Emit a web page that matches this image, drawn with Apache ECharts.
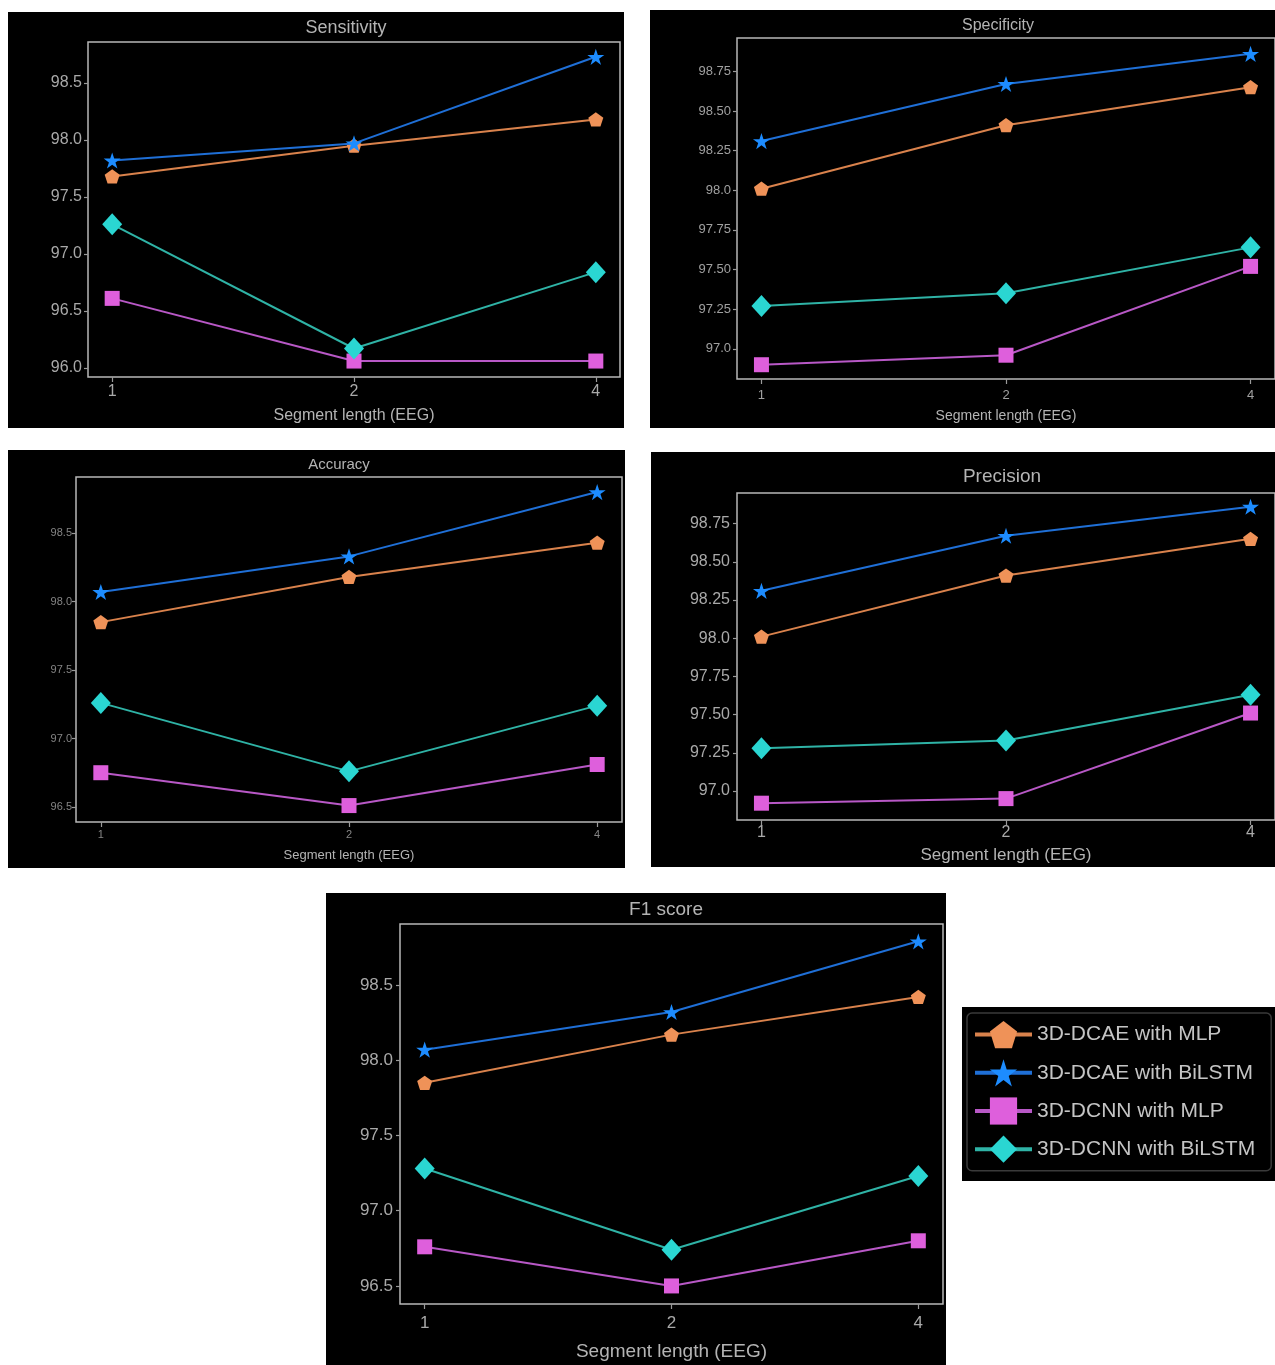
<!DOCTYPE html>
<html>
<head>
<meta charset="utf-8">
<script src="https://cdn.jsdelivr.net/npm/echarts@6/dist/echarts.min.js"></script>
<style>
  html, body { margin: 0; padding: 0; background: #fff; }
  #chart { width: 1275px; height: 1365px; }
</style>
</head>
<body>
<div id="chart"></div>
<script>
// segment lengths on the x axis
const segLabels = ["1", "2", "4"];
const modelNames = ["3D-DCAE with MLP", "3D-DCAE with BiLSTM", "3D-DCNN with MLP", "3D-DCNN with BiLSTM"];

// values, order: DCAE+MLP, DCAE+BiLSTM, DCNN+MLP, DCNN+BiLSTM
const sensitivity = [
  [97.68, 97.95, 98.18],
  [97.82, 97.97, 98.73],
  [96.61, 96.06, 96.06],
  [97.26, 96.17, 96.84]
];
const specificity = [
  [98.01, 98.41, 98.65],
  [98.31, 98.67, 98.86],
  [96.90, 96.96, 97.52],
  [97.27, 97.35, 97.64]
];
const accuracy = [
  [97.85, 98.18, 98.43],
  [98.07, 98.33, 98.80],
  [96.75, 96.51, 96.81],
  [97.26, 96.76, 97.24]
];
const precision = [
  [98.01, 98.41, 98.65],
  [98.31, 98.67, 98.86],
  [96.92, 96.95, 97.51],
  [97.28, 97.33, 97.63]
];
const f1score = [
  [97.85, 98.17, 98.42],
  [98.07, 98.32, 98.79],
  [96.76, 96.50, 96.80],
  [97.28, 96.74, 97.23]
];

// y tick values and their labels
const halfTicks = [96.0, 96.5, 97.0, 97.5, 98.0, 98.5];
const halfTickLabels = ["96.0", "96.5", "97.0", "97.5", "98.0", "98.5"];
const quarterTicks = [97.0, 97.25, 97.5, 97.75, 98.0, 98.25, 98.5, 98.75];
const quarterTickLabels = ["97.0", "97.25", "97.50", "97.75", "98.0", "98.25", "98.50", "98.75"];

const lineColors = ["#d9824c", "#1f6fd6", "#b858c6", "#2fb3a6"];
const markColors = ["#ef9258", "#1d8cff", "#de5fdc", "#2ad6d2"];
const symbols = [
  "path://M50,0L97.55,34.55L79.39,90.45L20.61,90.45L2.45,34.55Z",
  "path://M50,0L61.23,34.55L97.55,34.55L68.17,55.9L79.39,90.45L50,69.1L20.61,90.45L31.83,55.9L2.45,34.55L38.77,34.55Z",
  "rect",
  "diamond"
];
const symbolSizes = [[15, 15], [17, 17], [15, 15], [20, 22]];

const font = "'Liberation Sans Narrow', 'Liberation Sans', Arial, sans-serif";

// panel layouts
const panels = [
  { title: "Sensitivity", data: sensitivity, bg: [8, 12, 616, 416], grid: [88, 42, 532, 335],
    ymin: 95.92, ymax: 98.86, ticks: halfTicks, tickLabels: halfTickLabels,
    tx: 346, ty: 28, tsize: 18, lsize: 16, lcolor: "#a9a9a9", lmargin: 7, ymargin: 6, nsize: 16, ngap: 31 },
  { title: "Specificity", data: specificity, bg: [650, 10, 625, 418], grid: [737, 38, 543, 341],
    ymin: 96.81, ymax: 98.96, ticks: quarterTicks, tickLabels: quarterTickLabels,
    tx: 998, ty: 26, tsize: 16, lsize: 13, lcolor: "#a0a0a0", lmargin: 10, ymargin: 6, nsize: 14, ngap: 30 },
  { title: "Accuracy", data: accuracy, bg: [8, 450, 617, 418], grid: [76, 477, 546, 345],
    ymin: 96.39, ymax: 98.91, ticks: [96.5, 97.0, 97.5, 98.0, 98.5], tickLabels: ["96.5", "97.0", "97.5", "98.0", "98.5"],
    tx: 339, ty: 465, tsize: 15, lsize: 11, lcolor: "#858585", lmargin: 7, ymargin: 4, nsize: 13, ngap: 27 },
  { title: "Precision", data: precision, bg: [651, 452, 624, 415], grid: [737, 493, 546, 327],
    ymin: 96.81, ymax: 98.95, ticks: quarterTicks, tickLabels: quarterTickLabels,
    tx: 1002, ty: 477, tsize: 19, lsize: 16, lcolor: "#a9a9a9", lmargin: 5, ymargin: 7, nsize: 17, ngap: 27 },
  { title: "F1 score", data: f1score, bg: [326, 893, 620, 472], grid: [400, 924, 543, 380],
    ymin: 96.38, ymax: 98.905, ticks: halfTicks.slice(1), tickLabels: halfTickLabels.slice(1),
    tx: 666, ty: 910, tsize: 19, lsize: 17, lcolor: "#a9a9a9", lmargin: 11, ymargin: 7, nsize: 19, ngap: 38 }
];

let graphics = [];
let grids = [];
let xAxes = [];
let yAxes = [];
let seriesData = [];

panels.forEach(function (p, pi) {
  graphics.push({
    type: "rect", z: -10,
    shape: { x: p.bg[0], y: p.bg[1], width: p.bg[2], height: p.bg[3] },
    style: { fill: "#000" }
  });
  graphics.push({
    type: "text", x: p.tx, y: p.ty, z: 10,
    style: { text: p.title, fill: "#b4b4b4", font: p.tsize + "px " + font, textAlign: "center", textVerticalAlign: "middle" }
  });
  grids.push({
    left: p.grid[0], top: p.grid[1], width: p.grid[2], height: p.grid[3],
    show: true, borderColor: "#b8b8b8", borderWidth: 1.5, backgroundColor: "transparent"
  });
  xAxes.push({
    gridIndex: pi, type: "value", min: -0.1, max: 2.1,
    name: "Segment length (EEG)", nameLocation: "middle", nameGap: p.ngap,
    nameTextStyle: { color: "#b4b4b4", fontSize: p.nsize, fontFamily: font },
    axisLine: { show: false, onZero: false }, splitLine: { show: false },
    axisTick: { show: true, length: 5, customValues: [0, 1, 2], lineStyle: { color: "#999", width: 1.2 } },
    axisLabel: { customValues: [0, 1, 2], margin: p.lmargin, color: p.lcolor, fontSize: p.lsize, fontFamily: font,
      formatter: function (v) { return segLabels[Math.round(v)]; } }
  });
  yAxes.push({
    gridIndex: pi, type: "value", min: p.ymin, max: p.ymax,
    axisLine: { show: false, onZero: false }, splitLine: { show: false },
    axisTick: { show: true, length: 4, customValues: p.ticks, lineStyle: { color: "#999", width: 1.2 } },
    axisLabel: { customValues: p.ticks, margin: p.ymargin, color: p.lcolor, fontSize: p.lsize, fontFamily: font,
      formatter: function (v) {
        let k = p.ticks.findIndex(function (t) { return Math.abs(t - v) < 1e-6; });
        return k >= 0 ? p.tickLabels[k] : "";
      } }
  });
  p.data.forEach(function (vals, m) {
    seriesData.push({
      name: modelNames[m], type: "line",
      xAxisIndex: pi, yAxisIndex: pi,
      data: vals.map(function (v, i) { return [i, v]; }),
      symbol: symbols[m], symbolSize: symbolSizes[m], symbolKeepAspect: m < 2,
      itemStyle: { color: markColors[m] },
      lineStyle: { color: lineColors[m], width: 2 },
      z: 2 + m,
      animation: false
    });
  });
});

// legend backdrop
graphics.push({
  type: "rect", z: -10,
  shape: { x: 962, y: 1007, width: 313, height: 174 },
  style: { fill: "#000" }
});

const chart = echarts.init(document.getElementById("chart"));
chart.setOption({
  backgroundColor: "#fff",
  animation: false,
  graphic: graphics,
  grid: grids,
  xAxis: xAxes,
  yAxis: yAxes,
  legend: {
    data: modelNames,
    orient: "vertical",
    left: 967, top: 1013,
    padding: [8, 16, 8, 6],
    itemWidth: 57, itemHeight: 34, itemGap: 11,
    backgroundColor: "#000", borderColor: "#3a3a3a", borderWidth: 1.5, borderRadius: 5,
    lineStyle: { width: 4 },
    textStyle: { color: "#c4c4c4", fontSize: 21, fontFamily: "'Liberation Sans', Arial, sans-serif" }
  },
  series: seriesData
});
</script>
</body>
</html>
